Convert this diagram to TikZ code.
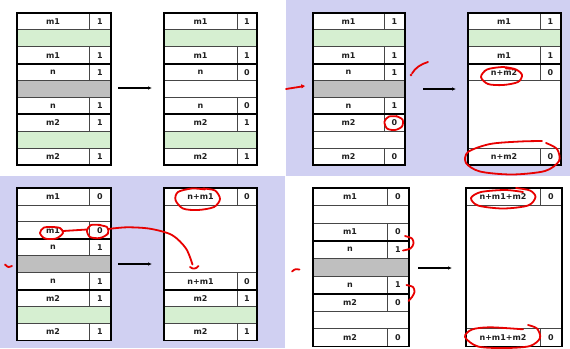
\documentclass[tikz,border=0pt]{standalone}
\usepackage{fontspec}
\setmainfont{DejaVu Sans}
\usetikzlibrary{fit,arrows.meta}

\definecolor{lav}{RGB}{208,208,242}
\definecolor{mgreen}{RGB}{214,239,209}
\definecolor{mgray}{RGB}{191,191,191}
\definecolor{cellline}{RGB}{70,70,70}
\definecolor{inkred}{RGB}{232,0,0}

\tikzset{
  cell/.style={draw=cellline, line width=0.8bp, fill=white, inner sep=0pt, outer sep=0pt},
  celltext/.style={inner sep=0pt, font=\fontsize{8}{10}\selectfont\bfseries, text=black!88},
  frame/.style={draw=black, line width=1.8bp},
  blockline/.style={draw=black, line width=1.8bp},
  flow/.style={draw=black, line width=1.1bp, -{Latex[length=4bp,width=3.6bp]}},
  pen/.style={draw=inkred, line width=1.8bp, line cap=round, line join=round},
}

% geometry of the current memory column: left, divider, right, top, row height
\newcommand\setcol[5]{\def\colL{#1}\def\colD{#2}\def\colR{#3}\def\colT{#4}\def\colH{#5}}
% a row (or merged rows) holding a label and a flag value
\newcommand\vrow[5]{%
  \node[cell, fit={(\colL,{\colT+(#2-1)*\colH}) (\colD,{\colT+#3*\colH})},
        label={[celltext]center:#4}] (#1l) {};
  \node[cell, fit={(\colD,{\colT+(#2-1)*\colH}) (\colR,{\colT+#3*\colH})},
        label={[celltext]center:#5}] (#1v) {};
}
% a row (or merged rows) that is only filled
\newcommand\frow[4]{%
  \node[cell, fill=#4, fit={(\colL,{\colT+(#2-1)*\colH}) (\colR,{\colT+#3*\colH})}] (#1) {};
}
% heavy line on top of a labelled row, marking a block boundary
\newcommand\blocksep[1]{\draw[blockline] (#1l.north west) -- (#1v.north east);}

\begin{document}
\begin{tikzpicture}[x=1bp,y=-1bp]
\useasboundingbox (0,0) rectangle (570,348);
\fill[white] (0,0) rectangle (570,348);
\fill[lav] (286,0) rectangle (570,176);
\fill[lav] (0,176) rectangle (285,348);

% ---------- panel a: free n ----------
\setcol{17}{89}{111}{13}{16.89}
\vrow{aL1}{1}{1}{m1}{1}
\frow{aL2}{2}{2}{mgreen}
\vrow{aL3}{3}{3}{m1}{1}
\vrow{aL4}{4}{4}{n}{1}
\frow{aL5}{5}{5}{mgray}
\vrow{aL6}{6}{6}{n}{1}
\vrow{aL7}{7}{7}{m2}{1}
\frow{aL8}{8}{8}{mgreen}
\vrow{aL9}{9}{9}{m2}{1}
\blocksep{aL4}\blocksep{aL7}
\draw[frame] (aL1l.north west) rectangle (aL9v.south east);

\setcol{164}{237}{257}{13}{16.89}
\vrow{aR1}{1}{1}{m1}{1}
\frow{aR2}{2}{2}{mgreen}
\vrow{aR3}{3}{3}{m1}{1}
\vrow{aR4}{4}{4}{n}{0}
\frow{aR5}{5}{5}{white}
\vrow{aR6}{6}{6}{n}{0}
\vrow{aR7}{7}{7}{m2}{1}
\frow{aR8}{8}{8}{mgreen}
\vrow{aR9}{9}{9}{m2}{1}
\blocksep{aR4}\blocksep{aR7}
\draw[frame] (aR1l.north west) rectangle (aR9v.south east);

\coordinate (aS) at (118,88);
\coordinate (aE) at (152,88);
\draw[flow] (aS) -- (aE);

% ---------- panel b: coalesce with next ----------
\setcol{313}{384}{405}{13}{16.89}
\vrow{bL1}{1}{1}{m1}{1}
\frow{bL2}{2}{2}{mgreen}
\vrow{bL3}{3}{3}{m1}{1}
\vrow{bL4}{4}{4}{n}{1}
\frow{bL5}{5}{5}{mgray}
\vrow{bL6}{6}{6}{n}{1}
\vrow{bL7}{7}{7}{m2}{0}
\frow{bL8}{8}{8}{white}
\vrow{bL9}{9}{9}{m2}{0}
\blocksep{bL4}\blocksep{bL7}
\draw[frame] (bL1l.north west) rectangle (bL9v.south east);

\setcol{468}{540}{561}{13}{16.89}
\vrow{bR1}{1}{1}{m1}{1}
\frow{bR2}{2}{2}{mgreen}
\vrow{bR3}{3}{3}{m1}{1}
\vrow{bR4}{4}{4}{n+m2}{0}
\frow{bR5}{5}{8}{white}
\vrow{bR9}{9}{9}{n+m2}{0}
\blocksep{bR4}
\draw[frame] (bR1l.north west) rectangle (bR9v.south east);

\coordinate (bS) at (423,89);
\coordinate (bE) at (456,89);
\draw[flow] (bS) -- (bE);

% ---------- panel c: coalesce with previous ----------
\setcol{17}{89}{111}{188}{16.94}
\vrow{cL1}{1}{1}{m1}{0}
\frow{cL2}{2}{2}{white}
\vrow{cL3}{3}{3}{m1}{0}
\vrow{cL4}{4}{4}{n}{1}
\frow{cL5}{5}{5}{mgray}
\vrow{cL6}{6}{6}{n}{1}
\vrow{cL7}{7}{7}{m2}{1}
\frow{cL8}{8}{8}{mgreen}
\vrow{cL9}{9}{9}{m2}{1}
\blocksep{cL4}\blocksep{cL7}
\draw[frame] (cL1l.north west) rectangle (cL9v.south east);

\setcol{164}{237}{257}{188}{16.94}
\vrow{cR1}{1}{1}{n+m1}{0}
\frow{cR2}{2}{5}{white}
\vrow{cR6}{6}{6}{n+m1}{0}
\vrow{cR7}{7}{7}{m2}{1}
\frow{cR8}{8}{8}{mgreen}
\vrow{cR9}{9}{9}{m2}{1}
\blocksep{cR7}
\draw[frame] (cR1l.north west) rectangle (cR9v.south east);

\coordinate (cS) at (118,264);
\coordinate (cE) at (152,264);
\draw[flow] (cS) -- (cE);

% ---------- panel d: coalesce with both ----------
\setcol{313}{387}{409}{188}{17.6}
\vrow{dL1}{1}{1}{m1}{0}
\frow{dL2}{2}{2}{white}
\vrow{dL3}{3}{3}{m1}{0}
\vrow{dL4}{4}{4}{n}{1}
\frow{dL5}{5}{5}{mgray}
\vrow{dL6}{6}{6}{n}{1}
\vrow{dL7}{7}{7}{m2}{0}
\frow{dL8}{8}{8}{white}
\vrow{dL9}{9}{9}{m2}{0}
\blocksep{dL4}\blocksep{dL7}
\draw[frame] (dL1l.north west) rectangle (dL9v.south east);

\setcol{466}{540}{562}{188}{17.6}
\vrow{dR1}{1}{1}{n+m1+m2}{0}
\frow{dR2}{2}{8}{white}
\vrow{dR9}{9}{9}{n+m1+m2}{0}
\draw[frame] (dR1l.north west) rectangle (dR9v.south east);

\coordinate (dS) at (418,268);
\coordinate (dE) at (452,268);
\draw[flow] (dS) -- (dE);

% ---------- hand-written red marks ----------
% panel b
\draw[pen] (286,89) -- (303,86.3);
\fill[inkred] (305,86) -- (301,84.2) -- (301.6,88.4) -- cycle;
\draw[pen] (428,62) .. controls (421,64) and (415,68) .. (412,73.5);
\fill[inkred] (411,75) circle (1.3bp);
\draw[pen] plot[smooth] coordinates {(398,116.5) (389,116.5) (384.5,121.5) (387,128.5) (395,130) (402,126.5) (402.5,119.5) (396,116)};
\draw[pen] plot[smooth] coordinates {(515,69) (503,67) (487,69.5) (481,77) (488,84) (503,85) (518,82) (522,75) (516,69.5) (506,68.5)};
\draw[pen] plot[smooth] coordinates {(542,141) (520,141.5) (490,144) (468,152) (466,163) (480,171.5) (512,174.5) (545,171) (559,161) (557,149) (546,143)};

% panel c
\draw[pen] (5,264.5) .. controls (8,267.5) .. (12,266);
\draw[pen] plot[smooth] coordinates {(55,227) (44,227.5) (40,233) (45,238.5) (56,238.5) (63,233) (60,228) (52,227)};
\draw[pen] plot[smooth] coordinates {(101,225) (91,225) (87,230.5) (90,237) (100,238) (108,233.5) (107,227) (98,225)};
\draw[pen] (63,231) -- (87,229.5);
\draw[pen] plot[smooth] coordinates {(108,229) (127,227.3) (150,228.7) (172,235) (186,248.5) (192.5,264.5)};
\draw[pen] (190,267) .. controls (193,269.5) and (196,269) .. (198.5,266);
\draw[pen] plot[smooth] coordinates {(205,189.5) (192,188.5) (178,192) (175.5,200) (183,208.5) (198,210) (214,207) (220,199) (215,190.5) (203,188.5)};

% panel d
\draw[pen] (292,271.5) .. controls (295,269) .. (299.5,269.5);
\draw[pen] plot[smooth] coordinates {(405,236) (412,238.5) (413.5,243.5) (410.5,248.5) (403,250.5)};
\draw[pen] plot[smooth] coordinates {(406.5,285) (413,287) (414.5,292) (412,297) (408.5,301)};
\draw[pen] plot[smooth] coordinates {(516,188) (530,190.5) (535.5,197) (528,205.5) (503,208.5) (478,205.5) (471,198) (481,192) (505,190) (523,192)};
\draw[pen] plot[smooth] coordinates {(528,325) (537,328.5) (540,338) (530,346) (506,348) (478,346.5) (465,337) (472,329.5) (490,327.3) (523,329.3)};
\end{tikzpicture}
\end{document}
